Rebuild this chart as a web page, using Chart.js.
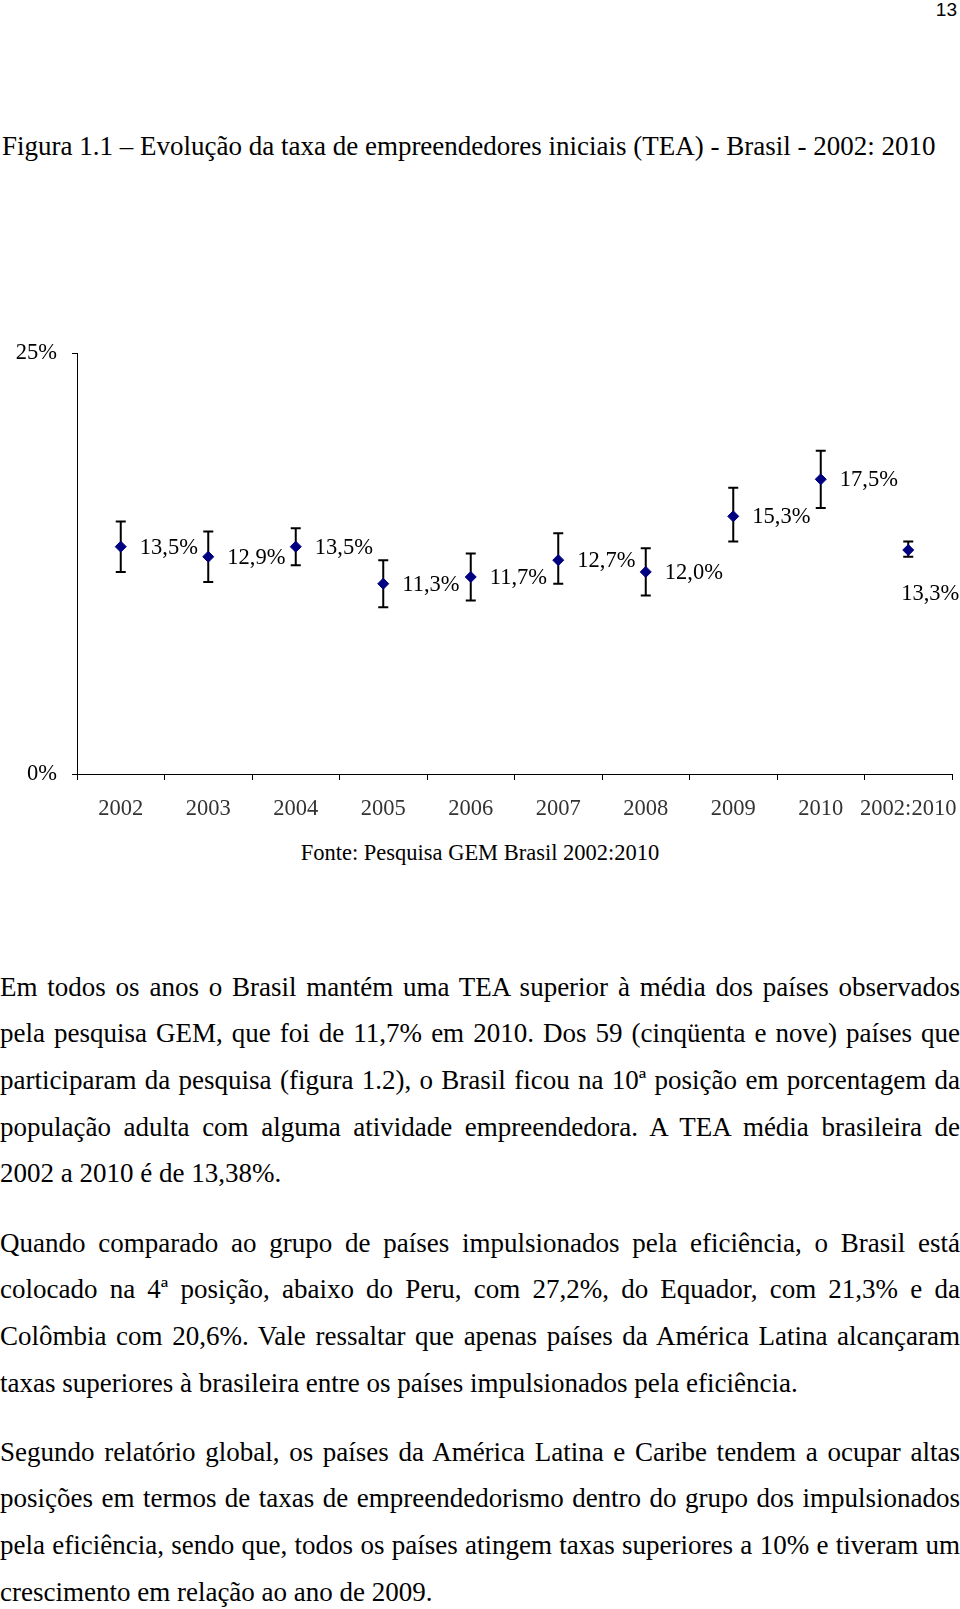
<!DOCTYPE html>
<html lang="pt-BR">
<head>
<meta charset="utf-8">
<title>Figura 1.1 – Evolução da TEA - Brasil</title>
<script src="https://cdn.jsdelivr.net/npm/chart.js@4.4.0/dist/chart.umd.min.js"></script>
<style>
  html, body { margin: 0; padding: 0; background: #fff; }
  body { width: 960px; height: 1609px; position: relative; overflow: hidden;
         font-family: "Liberation Serif", "Times New Roman", serif; color: #000; }
  .pagenum { position: absolute; top: 0; right: 3px; font: 19px/20px "Liberation Sans", Arial, sans-serif; }
  .title { position: absolute; left: 2px; top: 131px; font-size: 27px; line-height: 31px; white-space: nowrap; }
  #chartBox { position: absolute; left: 0; top: 320px; width: 960px; height: 520px; }
  .fonte { position: absolute; left: 0; width: 960px; top: 840px; text-align: center; font-size: 22.5px; line-height: 26px; }
  .para { position: absolute; left: 0; width: 960px; font-size: 27px; line-height: 46.7px; }
  .para div { text-align: justify; text-align-last: justify; white-space: nowrap; }
  .para div.last { text-align-last: left; }
</style>
</head>
<body>
<div class="pagenum">13</div>
<div class="title">Figura 1.1 – Evolução da taxa de empreendedores iniciais (TEA) - Brasil - 2002: 2010</div>

<div id="chartBox"><canvas id="teaChart" width="960" height="520"></canvas></div>

<div class="fonte">Fonte: Pesquisa GEM Brasil 2002:2010</div>

<div class="para" style="top:963.6px">
  <div>Em todos os anos o Brasil mantém uma TEA superior à média dos países observados</div>
  <div>pela pesquisa GEM, que foi de 11,7% em 2010. Dos 59 (cinqüenta e nove) países que</div>
  <div>participaram da pesquisa (figura 1.2), o Brasil ficou na 10ª posição em porcentagem da</div>
  <div>população adulta com alguma atividade empreendedora. A TEA média brasileira de</div>
  <div class="last">2002 a 2010 é de 13,38%.</div>
</div>

<div class="para" style="top:1219.6px">
  <div>Quando comparado ao grupo de países impulsionados pela eficiência, o Brasil está</div>
  <div>colocado na 4ª posição, abaixo do Peru, com 27,2%, do Equador, com 21,3% e da</div>
  <div>Colômbia com 20,6%. Vale ressaltar que apenas países da América Latina alcançaram</div>
  <div class="last">taxas superiores à brasileira entre os países impulsionados pela eficiência.</div>
</div>

<div class="para" style="top:1428.6px">
  <div>Segundo relatório global, os países da América Latina e Caribe tendem a ocupar altas</div>
  <div>posições em termos de taxas de empreendedorismo dentro do grupo dos impulsionados</div>
  <div>pela eficiência, sendo que, todos os países atingem taxas superiores a 10% e tiveram um</div>
  <div class="last">crescimento em relação ao ano de 2009.</div>
</div>

<script>
// TEA Brasil 2002-2010

const categories = ['2002', '2003', '2004', '2005', '2006', '2007', '2008', '2009', '2010', '2002:2010'];
const teaValues = [13.5, 12.9, 13.5, 11.3, 11.7, 12.7, 12.0, 15.3, 17.5, 13.3];
const lowerBounds = [12.0, 11.4, 12.4, 9.9, 10.3, 11.3, 10.6, 13.8, 15.8, 12.9];
const upperBounds = [15.0, 14.4, 14.6, 12.7, 13.1, 14.3, 13.4, 17.0, 19.2, 13.8];
const yTicks = [0, 25];

const serif = '"Liberation Serif", "Times New Roman", serif';

function fmtPct(v) {
  return v.toFixed(1).replace('.', ',') + '%';
}

// error bars, drawn under the diamonds
const errorBars = {
  id: 'errorBars',
  beforeDatasetsDraw(chart) {
    const { ctx } = chart;
    const y = chart.scales.y;
    const meta = chart.getDatasetMeta(0);
    ctx.save();
    ctx.strokeStyle = '#000';
    ctx.lineWidth = 2;
    meta.data.forEach((pt, i) => {
      const top = y.getPixelForValue(upperBounds[i]);
      const bottom = y.getPixelForValue(lowerBounds[i]);
      ctx.beginPath();
      ctx.moveTo(pt.x, top);
      ctx.lineTo(pt.x, bottom);
      ctx.moveTo(pt.x - 5, top);
      ctx.lineTo(pt.x + 5, top);
      ctx.moveTo(pt.x - 5, bottom);
      ctx.lineTo(pt.x + 5, bottom);
      ctx.stroke();
    });
    ctx.restore();
  }
};

// value labels: right of each point, below for the overall average
const valueLabels = {
  id: 'valueLabels',
  afterDatasetsDraw(chart) {
    const { ctx } = chart;
    const meta = chart.getDatasetMeta(0);
    ctx.save();
    ctx.fillStyle = '#000';
    ctx.font = '22.5px ' + serif;
    ctx.textBaseline = 'middle';
    meta.data.forEach((pt, i) => {
      const text = fmtPct(teaValues[i]);
      if (categories[i] === '2002:2010') {
        ctx.textAlign = 'center';
        ctx.fillText(text, pt.x + 22, pt.y + 44);
      } else {
        ctx.textAlign = 'left';
        ctx.fillText(text, pt.x + 19, pt.y + 1);
      }
    });
    ctx.restore();
  }
};

const ctx = document.getElementById('teaChart').getContext('2d');

new Chart(ctx, {
  type: 'line',
  data: {
    labels: categories,
    datasets: [{
      data: teaValues,
      showLine: false,
      pointStyle: 'rectRot',
      pointRadius: 5.5,
      pointBackgroundColor: '#000080',
      pointBorderColor: '#000080',
      pointBorderWidth: 1
    }]
  },
  options: {
    responsive: false,
    animation: false,
    events: [],
    layout: { padding: { top: 33, right: 8, left: 0, bottom: 0 } },
    plugins: {
      legend: { display: false },
      tooltip: { enabled: false }
    },
    scales: {
      x: {
        offset: true,
        grid: { offset: true, drawOnChartArea: false, tickLength: 6, color: '#000' },
        border: { color: '#000', width: 1 },
        ticks: {
          color: '#333',
          font: { family: serif, size: 22.5 },
          padding: 16,
          maxRotation: 0,
          autoSkip: false
        },
        afterFit: s => { s.height = 66; s.paddingLeft = 0; s.paddingRight = 0; }
      },
      y: {
        min: 0,
        max: 25,
        afterBuildTicks: s => { s.ticks = yTicks.map(v => ({ value: v })); },
        grid: { drawOnChartArea: false, tickLength: 5, color: '#000' },
        border: { color: '#000', width: 1 },
        ticks: {
          color: '#000',
          font: { family: serif, size: 22.5 },
          padding: 15,
          callback: v => v + '%'
        },
        afterFit: s => { s.width = 77; }
      }
    }
  },
  plugins: [errorBars, valueLabels]
});
</script>
</body>
</html>
